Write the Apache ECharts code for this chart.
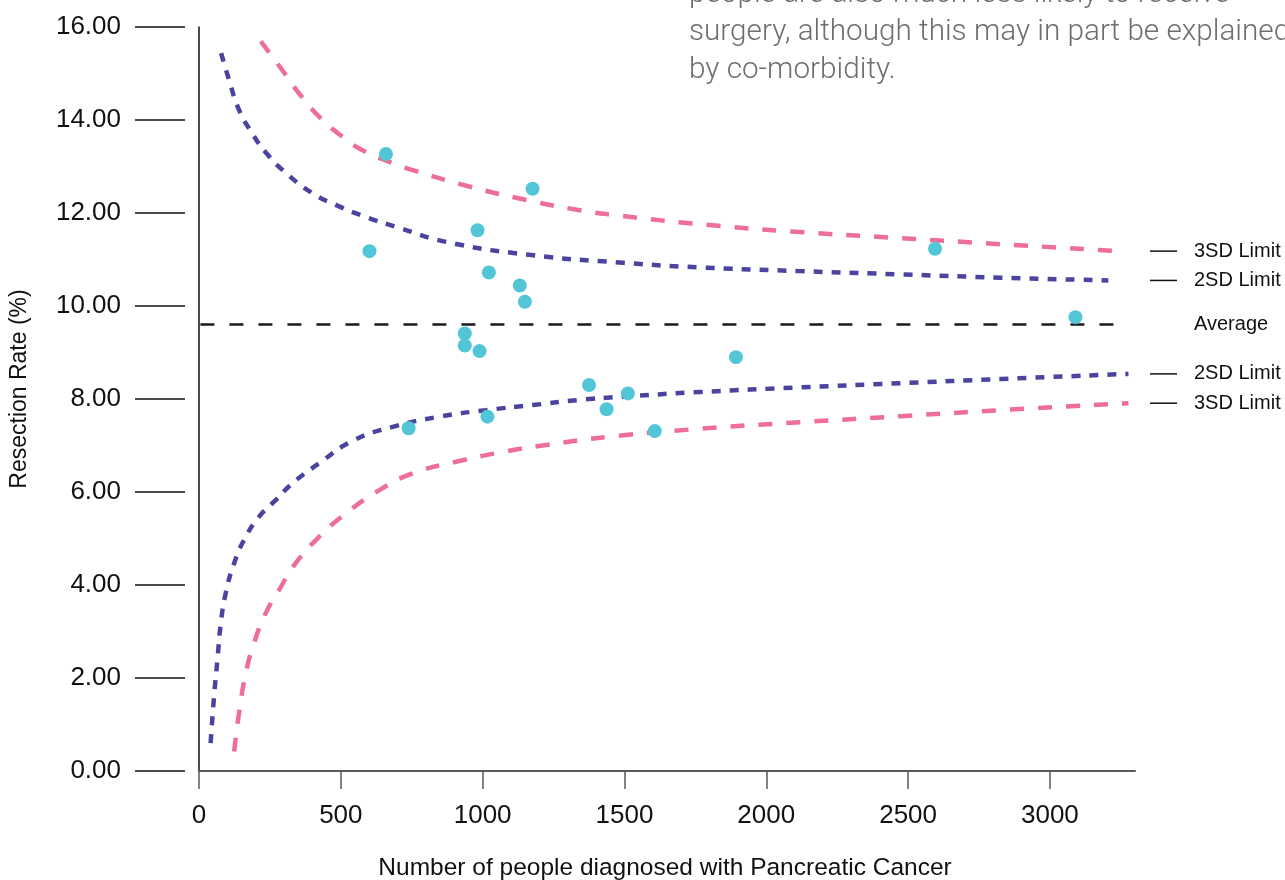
<!DOCTYPE html>
<html>
<head>
<meta charset="utf-8">
<script src="https://cdn.jsdelivr.net/npm/echarts@6/dist/echarts.min.js"></script>
<style>
  html, body { margin: 0; padding: 0; background: #fff; }
  #chart { width: 1285px; height: 880px; }
</style>
</head>
<body>
<div id="chart"></div>
<script>
// ---- data ----
var xTickValues = [0, 500, 1000, 1500, 2000, 2500, 3000];
var yTickValues = [0, 2, 4, 6, 8, 10, 12, 14, 16];

// observed units: [people diagnosed, resection rate %]
var unitPoints = [
  [659, 13.27], [1176, 12.52], [601, 11.18], [982, 11.63], [1022, 10.72],
  [1131, 10.44], [1149, 10.09], [937, 9.41], [937, 9.15], [989, 9.03],
  [1375, 8.30], [1437, 7.78], [1512, 8.12], [1017, 7.62], [739, 7.37],
  [2595, 11.23], [3090, 9.76], [1893, 8.90], [1607, 7.31]
];

var averageRate = 9.6;
var averageSpan = [5, 3270];

var upper2SD = [
  [78, 15.44], [106, 14.86], [141, 14.22], [187, 13.72], [237, 13.29],
  [307, 12.86], [399, 12.43], [484, 12.17], [590, 11.91], [696, 11.70],
  [871, 11.38], [1165, 11.10], [1495, 10.93], [1766, 10.83], [2119, 10.75],
  [2472, 10.68], [2825, 10.61], [3206, 10.55]
];
var upper3SD = [
  [218, 15.69], [294, 15.07], [353, 14.57], [424, 14.07], [506, 13.64],
  [577, 13.35], [683, 13.07], [754, 12.92], [953, 12.57], [1154, 12.28],
  [1342, 12.06], [1459, 11.96], [1800, 11.74], [2119, 11.59], [2472, 11.46],
  [2825, 11.33], [3242, 11.18]
];
var lower2SD = [
  [41, 0.60], [53, 1.60], [65, 2.39], [77, 3.18], [94, 3.82], [124, 4.47],
  [159, 4.97], [212, 5.47], [271, 5.83], [330, 6.19], [424, 6.62],
  [542, 7.10], [683, 7.40], [847, 7.62], [1012, 7.76], [1177, 7.87],
  [1342, 7.98], [1495, 8.05], [1766, 8.15], [2119, 8.25], [2472, 8.34],
  [2825, 8.43], [3277, 8.54]
];
var lower3SD = [
  [124, 0.42], [141, 1.24], [165, 2.10], [194, 2.75], [235, 3.39],
  [282, 3.89], [341, 4.47], [424, 5.04], [518, 5.54], [636, 6.04],
  [753, 6.40], [906, 6.65], [1071, 6.86], [1224, 7.01], [1448, 7.19],
  [1766, 7.36], [2119, 7.50], [2472, 7.63], [2825, 7.76], [3277, 7.91]
];

var limitLabels = ['3SD Limit', '2SD Limit', 'Average', '2SD Limit', '3SD Limit'];
var introText = [
  'people are also much less likely to receive',
  'surgery, although this may in part be explained',
  'by co-morbidity.'
];
var xAxisTitle = 'Number of people diagnosed with Pancreatic Cancer';
var yAxisTitle = 'Resection Rate (%)';

// ---- styles ----
var PINK = '#EF6E98';
var PURPLE = '#4A449E';
var TEAL = '#52C6D7';
var FONT = '"Liberation Sans", Arial, sans-serif';

var chart = echarts.init(document.getElementById('chart'), null, { renderer: 'canvas' });

function limitSeries(name, data, color, dash, width) {
  return {
    name: name,
    type: 'line',
    data: data,
    showSymbol: false,
    symbol: 'none',
    smooth: 0.5,
    silent: true,
    lineStyle: { color: color, width: width, type: dash, cap: 'butt' },
    z: 2
  };
}

var option = {
  animation: false,
  backgroundColor: '#ffffff',
  grid: [
    { left: 199, right: 150, top: 27, bottom: 109, containLabel: false },
    { left: 185, right: 150, top: 27, bottom: 109, containLabel: false }
  ],
  xAxis: [
    {
      type: 'value',
      gridIndex: 0,
      min: 0,
      max: 3300,
      interval: 500,
      axisLine: { show: true, onZero: false, lineStyle: { color: '#5a5a5a', width: 2 } },
      axisTick: { show: true, inside: false, length: 18, lineStyle: { color: '#5a5a5a', width: 1.5 },
        customValues: xTickValues },
      axisLabel: { show: true, margin: 32, fontSize: 26, color: '#111', fontFamily: FONT,
        customValues: xTickValues, formatter: function (v) { return String(v); } },
      splitLine: { show: false }
    },
    {
      type: 'value',
      gridIndex: 1,
      min: 0,
      max: 3300,
      show: false
    }
  ],
  yAxis: [
    {
      type: 'value',
      gridIndex: 0,
      min: 0, max: 16, interval: 2,
      position: 'left',
      axisLine: { show: true, onZero: false, lineStyle: { color: '#111', width: 1.5 } },
      axisTick: { show: false },
      axisLabel: { show: false },
      splitLine: { show: false }
    },
    {
      type: 'value',
      gridIndex: 1,
      min: 0, max: 16, interval: 2,
      position: 'left',
      axisLine: { show: false, onZero: false },
      axisTick: { show: true, length: 50, lineStyle: { color: '#111', width: 1.5 },
        customValues: yTickValues },
      axisLabel: { show: true, margin: 64, fontSize: 26, color: '#111', fontFamily: FONT,
        customValues: yTickValues,
        formatter: function (v) { return v.toFixed(2); } },
      splitLine: { show: false }
    }
  ],
  series: [
    limitSeries('Upper 3SD', upper3SD, PINK, [14, 14], 4.5),
    limitSeries('Upper 2SD', upper2SD, PURPLE, [9, 9], 4.5),
    limitSeries('Lower 2SD', lower2SD, PURPLE, [9, 9], 4.5),
    limitSeries('Lower 3SD', lower3SD, PINK, [14, 14], 4.5),
    {
      name: 'Average',
      type: 'line',
      data: [[averageSpan[0], averageRate], [averageSpan[1], averageRate]],
      symbol: 'none',
      silent: true,
      lineStyle: { color: '#1a1a1a', width: 2.5, type: [14, 15] },
      z: 2
    },
    {
      name: 'Units',
      type: 'scatter',
      data: unitPoints,
      symbol: 'circle',
      symbolSize: 14,
      itemStyle: { color: TEAL, opacity: 1 },
      z: 5
    }
  ]
};

chart.setOption(option);

// right-hand labels tied to the end of each limit line
var labelValues = [
  upper3SD[upper3SD.length - 1][1],
  upper2SD[upper2SD.length - 1][1],
  averageRate,
  lower2SD[lower2SD.length - 1][1],
  lower3SD[lower3SD.length - 1][1]
];
var graphics = [];
labelValues.forEach(function (v, i) {
  var py = chart.convertToPixel({ xAxisIndex: 0, yAxisIndex: 0 }, [0, v])[1];
  if (limitLabels[i] !== 'Average') {
    graphics.push({
      type: 'line',
      shape: { x1: 1150, y1: py, x2: 1177, y2: py },
      style: { stroke: '#111', lineWidth: 1.5 },
      silent: true
    });
  }
  graphics.push({
    type: 'text',
    x: 1194, y: py,
    style: { text: limitLabels[i], fontSize: 20, fontFamily: FONT, fill: '#111',
      textAlign: 'left', textVerticalAlign: 'middle' },
    silent: true
  });
});

// axis titles
graphics.push({
  type: 'text',
  x: 665, y: 868,
  style: { text: xAxisTitle, fontSize: 24.5, fontFamily: FONT, fill: '#111',
    textAlign: 'center', textVerticalAlign: 'middle' },
  silent: true
});
graphics.push({
  type: 'text',
  x: 20, y: 389,
  rotation: Math.PI / 2,
  style: { text: yAxisTitle, fontSize: 23, fontFamily: FONT, fill: '#111',
    textAlign: 'center', textVerticalAlign: 'middle' },
  silent: true
});

// intro text (partly above the top edge)
introText.forEach(function (line, i) {
  graphics.push({
    type: 'text',
    x: 689, y: -5 + i * 38,
    style: { text: line, fontSize: 29.7, fontFamily: 'Roboto, "Liberation Sans", sans-serif',
      fontWeight: 300, fill: '#6e6e6e', textAlign: 'left', textVerticalAlign: 'middle' },
    silent: true
  });
});

chart.setOption({ graphic: graphics });
</script>
</body>
</html>
